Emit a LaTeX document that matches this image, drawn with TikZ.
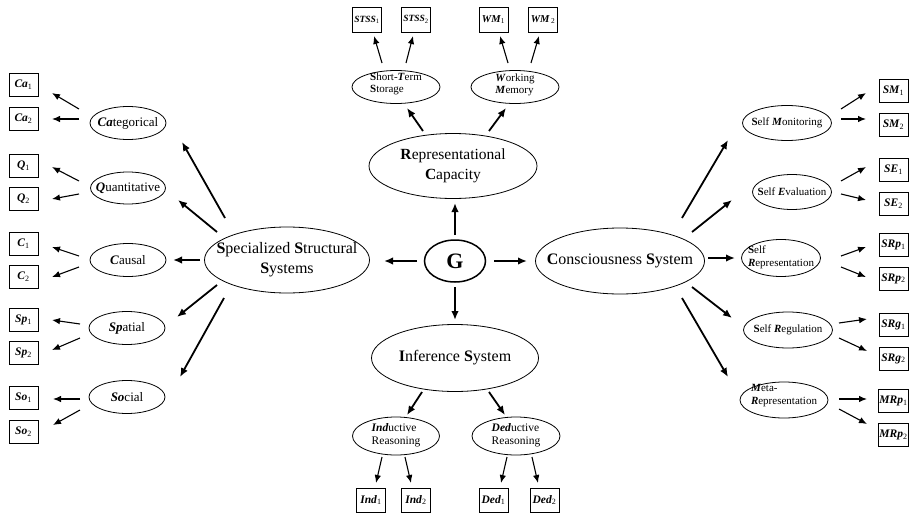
\documentclass[tikz,border=0pt]{standalone}
\usepackage{fontspec}
\setmainfont{Liberation Serif}
\usetikzlibrary{arrows.meta,shapes.geometric}
\newcommand\bl[2]{\textbf{\textit{#1}}\textsubscript{#2}}
\newcommand\bi[1]{\textbf{\textit{#1}}}
\newcommand\conn[5][bigarr]{\draw[#1] ([shift={(#3)}]#2.center) -- ([shift={(#5)}]#4.center);}
\newcommand\en[7]{\node[ell, minimum width=#3pt, minimum height=#4pt] (#1) at (#2) {};
  \node[lab,#5] (#1T) at ([yshift=#6pt]#1.center) {#7};}
\tikzset{
  ell/.style={ellipse, draw, line width=0.8pt, inner sep=0pt},
  lab/.style={inner sep=0pt, align=center},
  bx/.style={draw, line width=0.9pt, minimum width=29pt, minimum height=23pt, inner sep=0.5pt, font=\fontsize{11.5}{12}\selectfont},
  bigarr/.style={line width=1.8pt, -{Latex[length=9pt,width=7.5pt]}},
  smarr/.style={line width=1.1pt, -{Latex[length=8pt,width=6.5pt]}},
  bigtxt/.style={font=\fontsize{16}{20}\selectfont},
  lefttxt/.style={font=\fontsize{13}{14}\selectfont},
  righttxt/.style={font=\fontsize{11}{13}\selectfont},
  toptxt/.style={font=\fontsize{11}{12.5}\selectfont, align=left},
}
\begin{document}
\begin{tikzpicture}[x=1pt,y=-1pt]
\useasboundingbox (0,0) rectangle (910,514);
% central
\node[ell, line width=1.5pt, minimum width=61pt, minimum height=42pt] (g) at (455,261) {};
\node[inner sep=0pt, font=\fontsize{22}{24}\selectfont\bfseries] (gT) at (g.center) {G};
\en{rc}{453,166}{168}{65}{font=\fontsize{15.5}{20}\selectfont}{0}{\textbf{R}epresentational\\\textbf{C}apacity}
\en{sss}{287,260}{165}{66}{bigtxt}{0}{\textbf{S}pecialized \textbf{S}tructural\\\textbf{S}ystems}
\en{cs}{620,261}{169}{66}{bigtxt}{0}{\textbf{C}onsciousness \textbf{S}ystem}
\en{is}{455,358}{167}{67}{bigtxt}{0}{\textbf{I}nference \textbf{S}ystem}
% top
\en{sts}{396,87}{88}{33}{toptxt}{3}{\textbf{S}hort-\bi{T}erm\\\textbf{S}torage}
\en{wm}{515,87}{88}{33}{toptxt}{2}{\bi{W}orking\\\bi{M}emory}
% bottom
\en{ind}{396,436}{87}{38}{toptxt,font=\fontsize{11.5}{13}\selectfont}{1}{\bi{Ind}uctive\\Reasoning}
\en{ded}{516,436}{88}{38}{toptxt,font=\fontsize{11.5}{13}\selectfont}{1}{\bi{Ded}uctive\\Reasoning}
% left
\en{cat}{128,123}{76}{33}{lefttxt}{0}{\bi{Ca}tegorical}
\en{qua}{128,188}{75}{32}{lefttxt}{0}{\bi{Q}uantitative}
\en{cau}{128,260}{76}{33}{lefttxt}{0}{\bi{C}ausal}
\en{spa}{127,328}{76}{33}{lefttxt}{0}{\bi{Sp}atial}
\en{soc}{127,397}{76}{33}{lefttxt}{0}{\bi{So}cial}
% right
\en{smo}{787,123}{89}{35}{righttxt}{0}{\textbf{S}elf \bi{M}onitoring}
\en{sev}{792,192}{79}{35}{righttxt}{0}{\textbf{S}elf \bi{E}valuation}
\en{srp}{781,258}{79}{37}{righttxt,align=left}{1}{\textbf{S}elf\\\bi{R}epresentation}
\en{srg}{788,330}{89}{36}{righttxt}{0}{\textbf{S}elf \bi{R}egulation}
\en{mrp}{784,400}{88}{36}{righttxt,align=left}{4}{\bi{M}eta-\\\bi{R}epresentation}
% boxes left
\node[bx] (ca1) at (23.5,85) {\bl{Ca}{1}};
\node[bx] (ca2) at (23.5,118.5) {\bl{Ca}{2}};
\node[bx] (q1) at (23.5,165.5) {\bl{Q}{1}};
\node[bx] (q2) at (23.5,198.5) {\bl{Q}{2}};
\node[bx] (c1) at (23.5,243.5) {\bl{C}{1}};
\node[bx] (c2) at (23.5,276.5) {\bl{C}{2}};
\node[bx] (sp1) at (23.5,320) {\bl{Sp}{1}};
\node[bx] (sp2) at (23.5,353) {\bl{Sp}{2}};
\node[bx] (so1) at (23.5,398) {\bl{So}{1}};
\node[bx] (so2) at (23.5,431.5) {\bl{So}{2}};
% boxes right
\node[bx] (sm1) at (893.5,91) {\bl{SM}{1}};
\node[bx] (sm2) at (893.5,125) {\bl{SM}{2}};
\node[bx] (se1) at (893.5,170) {\bl{SE}{1}};
\node[bx] (se2) at (893.5,203.5) {\bl{SE}{2}};
\node[bx] (srp1) at (893.5,245) {\bl{SRp}{1}};
\node[bx] (srp2) at (893.5,278.5) {\bl{SRp}{2}};
\node[bx] (srg1) at (893.5,325) {\bl{SRg}{1}};
\node[bx] (srg2) at (893.5,358.5) {\bl{SRg}{2}};
\node[bx] (mrp1) at (893.5,401) {\bl{MRp}{1}};
\node[bx] (mrp2) at (893.5,435) {\bl{MRp}{2}};
% boxes top
\node[bx, minimum height=25pt, font=\fontsize{9.5}{10}\selectfont] (stss1) at (367,19.5) {\bl{STSS}{1}};
\node[bx, minimum height=25pt, font=\fontsize{9.5}{10}\selectfont] (stss2) at (416,19.5) {\bl{STSS}{2}};
\node[bx, minimum height=25pt, font=\fontsize{10.5}{11}\selectfont] (wm1) at (493.5,19.5) {\bl{WM}{1}};
\node[bx, minimum height=25pt, font=\fontsize{10.5}{11}\selectfont] (wm2) at (543,19.5) {\bl{WM}{\,2}};
% boxes bottom
\node[bx, minimum height=24pt] (ind1) at (371,500) {\bl{Ind}{1}};
\node[bx, minimum height=24pt] (ind2) at (416,500) {\bl{Ind}{2}};
\node[bx, minimum height=24pt] (ded1) at (493.5,500) {\bl{Ded}{1}};
\node[bx, minimum height=24pt] (ded2) at (544.5,500) {\bl{Ded}{2}};
% G arrows
\conn{g}{0,-26}{rc}{2,37}
\conn{g}{-38,0}{sss}{97,1}
\conn{g}{39,0}{cs}{-93,0}
\conn{g}{0,26}{is}{0,-38}
% RC
\conn{rc}{-30,-35}{sts}{11,21}
\conn{rc}{36,-35}{wm}{-9,21}
\conn[smarr]{sts}{-14,-24}{stss1}{7,16.5}
\conn[smarr]{sts}{10,-24}{stss2}{-3,16.5}
\conn[smarr]{wm}{-7,-24}{wm1}{6.5,16.5}
\conn[smarr]{wm}{16,-24}{wm2}{-4,16.5}
% IS
\conn{is}{-33,34}{ind}{11,-21}
\conn{is}{34,34}{ded}{-11,-21}
\conn[smarr]{ind}{-14,21}{ind1}{5,-17}
\conn[smarr]{ind}{9,21}{ind2}{-5,-17}
\conn[smarr]{ded}{-9,21}{ded1}{7.5,-17}
\conn[smarr]{ded}{16,21}{ded2}{-6.5,-17}
% SSS
\conn{sss}{-62,-42}{cat}{54,19}
\conn{sss}{-70,-28}{qua}{50,12}
\conn{sss}{-87,0}{cau}{45,0}
\conn{sss}{-70,25}{spa}{50,-11}
\conn{sss}{-63,38}{soc}{53,-20}
\conn[smarr]{cat}{-49,-14}{ca1}{28.5,8}
\conn[smarr]{cat}{-49,-4}{ca2}{28.5,0.5}
\conn[smarr]{qua}{-49,-7}{q1}{28.5,1.5}
\conn[smarr]{qua}{-49,6}{q2}{28.5,0.5}
\conn[smarr]{cau}{-49,-4}{c1}{28.5,3.5}
\conn[smarr]{cau}{-49,7}{c2}{28.5,0.5}
\conn[smarr]{spa}{-47,-4}{sp1}{28.5,0}
\conn[smarr]{spa}{-47,10}{sp2}{28.5,-3}
\conn[smarr]{soc}{-47,2}{so1}{29.5,1}
\conn[smarr]{soc}{-47,13}{so2}{29.5,-6.5}
% CS
\conn{cs}{62,-43}{smo}{-59,17}
\conn{cs}{72,-29}{sev}{-60,8}
\conn{cs}{88,-3}{srp}{-46,0}
\conn{cs}{72,26}{srg}{-56,-12}
\conn{cs}{62,37}{mrp}{-56,-23}
\conn[smarr]{smo}{54,-14}{sm1}{-27.5,2}
\conn[smarr]{smo}{54,-4}{sm2}{-27.5,-6}
\conn[smarr]{sev}{49,-11}{se1}{-27.5,-3}
\conn[smarr]{sev}{49,2}{se2}{-27.5,-3.5}
\conn[smarr]{srp}{60,-2}{srp1}{-27.5,2}
\conn[smarr]{srp}{60,9}{srp2}{-27.5,-1.5}
\conn[smarr]{srg}{51,-7}{srg1}{-26.5,-6}
\conn[smarr]{srg}{51,8}{srg2}{-26.5,-7.5}
\conn[smarr]{mrp}{55,-1}{mrp1}{-26.5,-2}
\conn[smarr]{mrp}{55,9}{mrp2}{-26.5,-11}
\end{tikzpicture}
\end{document}
